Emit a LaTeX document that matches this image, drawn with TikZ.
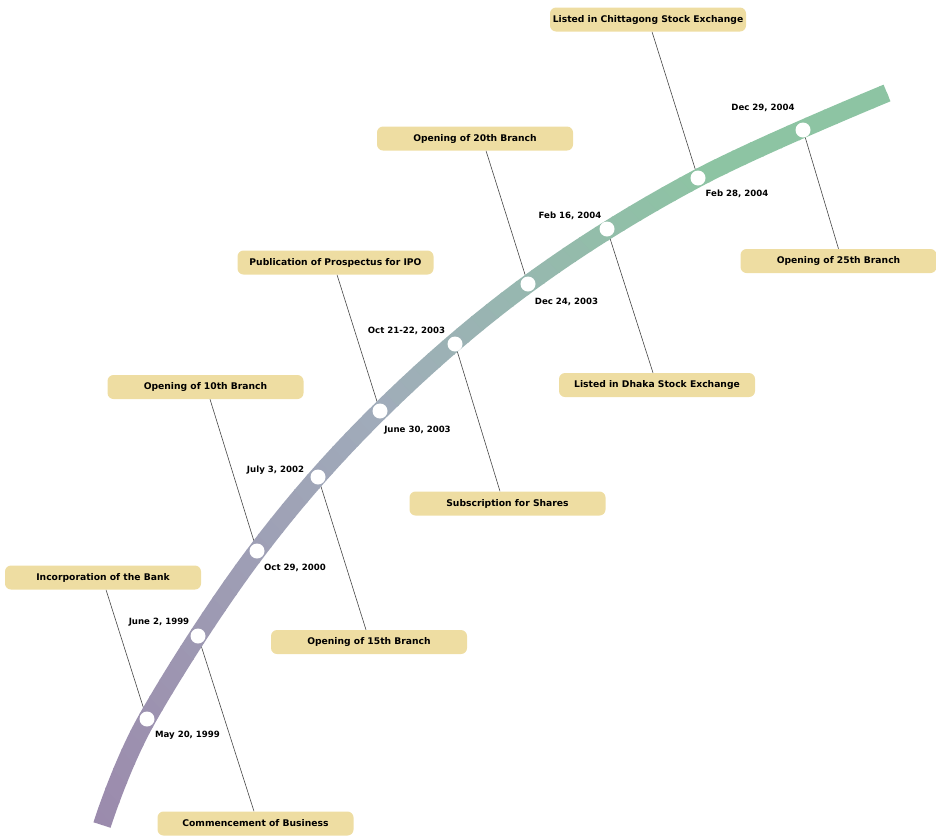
\documentclass[tikz,border=0pt]{standalone}
\usepackage{fontspec}
\setmainfont{DejaVu Sans}
\usetikzlibrary{backgrounds}
\definecolor{bandA}{RGB}{155,137,172}
\definecolor{bandB}{RGB}{160,172,186}
\definecolor{bandC}{RGB}{141,196,163}
\definecolor{boxfill}{RGB}{238,221,162}
\definecolor{linec}{RGB}{70,70,70}
\newcommand\drawband[1]{\draw[#1] plot[smooth,tension=0.6] coordinates {(102,825) (147,719) (257,551) (380,411) (528,284) (698,178) (887,93)};}
\begin{document}
\begin{tikzpicture}[x=1pt,y=-1pt,
  evbox/.style={fill=boxfill, rounded corners=6pt, minimum width=196pt, minimum height=24pt, inner sep=0pt, font=\bfseries\fontsize{9.2}{10}\selectfont},
  datelbl/.style={font=\bfseries\fontsize{8.6}{10}\selectfont, inner sep=0pt},
  evdot/.style={circle, fill=white, minimum size=15pt, inner sep=0pt},
  conn/.style={draw=linec, line width=0.6pt}]
\useasboundingbox (0,0) rectangle (936,836);
% event boxes
\node[evbox] (b1) at (103,577.5) {Incorporation of the Bank};
\node[evbox] (b2) at (255.5,823.5) {Commencement of Business};
\node[evbox] (b3) at (205.5,387) {Opening of 10th Branch};
\node[evbox] (b4) at (369,642) {Opening of 15th Branch};
\node[evbox] (b5) at (335.5,262.5) {Publication of Prospectus for IPO};
\node[evbox] (b6) at (507.5,503.5) {Subscription for Shares};
\node[evbox] (b7) at (475,138.5) {Opening of 20th Branch};
\node[evbox] (b8) at (657,385) {Listed in Dhaka Stock Exchange};
\node[evbox] (b9) at (648,19.5) {Listed in Chittagong Stock Exchange};
\node[evbox] (b10) at (838.5,261) {Opening of 25th Branch};
% dots
\node[evdot] (d1) at (147,719) {};
\node[evdot] (d2) at (198,636) {};
\node[evdot] (d3) at (257,551) {};
\node[evdot] (d4) at (318,477) {};
\node[evdot] (d5) at (380,411) {};
\node[evdot] (d6) at (455,344) {};
\node[evdot] (d7) at (528,284) {};
\node[evdot] (d8) at (607,229) {};
\node[evdot] (d9) at (698,178) {};
\node[evdot] (d10) at (803,130) {};
% dates
\node[datelbl] (t1) at (187.5,735) {May 20, 1999};
\node[datelbl] (t2) at (159,622) {June 2, 1999};
\node[datelbl] (t3) at (295,568) {Oct 29, 2000};
\node[datelbl] (t4) at (275.5,470) {July 3, 2002};
\node[datelbl] (t5) at (417.5,430) {June 30, 2003};
\node[datelbl] (t6) at (406.5,331) {Oct 21-22, 2003};
\node[datelbl] (t7) at (566.5,302) {Dec 24, 2003};
\node[datelbl] (t8) at (570,216) {Feb 16, 2004};
\node[datelbl] (t9) at (737,194) {Feb 28, 2004};
\node[datelbl] (t10) at (763,108) {Dec 29, 2004};
\begin{scope}[on background layer]
% connectors
\draw[conn] ([xshift=3pt]b1.south) -- (d1.center);
\draw[conn] ([xshift=-1.5pt]b2.north) -- (d2.center);
\draw[conn] ([xshift=4.5pt]b3.south) -- (d3.center);
\draw[conn] ([xshift=-3pt]b4.north) -- (d4.center);
\draw[conn] ([xshift=1.5pt]b5.south) -- (d5.center);
\draw[conn] ([xshift=-7.5pt]b6.north) -- (d6.center);
\draw[conn] ([xshift=11pt]b7.south) -- (d7.center);
\draw[conn] ([xshift=-4pt]b8.north) -- (d8.center);
\draw[conn] ([xshift=4pt]b9.south) -- (d9.center);
\draw[conn] ([xshift=0pt]b10.north) -- (d10.center);
% gradient band
\foreach \i in {0,...,59}{
  \pgfmathsetmacro{\sa}{-30+\i*19}
  \pgfmathsetmacro{\sb}{\sa+20.5}
  \pgfmathsetmacro{\ax}{102+\sa*0.7313}
  \pgfmathsetmacro{\ay}{825-\sa*0.6820}
  \pgfmathsetmacro{\bx}{102+\sb*0.7313}
  \pgfmathsetmacro{\by}{825-\sb*0.6820}
  \pgfmathsetmacro{\tt}{(\i+0.5)/60}
  \pgfmathtruncatemacro{\seg}{\tt<0.45 ? 0 : (\tt<0.8 ? 1 : 2)}
  \ifcase\seg
    \pgfmathtruncatemacro{\pp}{100*\tt/0.45}\colorlet{bandcur}{bandB!\pp!bandA}
  \or
    \pgfmathtruncatemacro{\pp}{100*(\tt-0.45)/0.35}\colorlet{bandcur}{bandC!\pp!bandB}
  \else
    \colorlet{bandcur}{bandC}
  \fi
  \begin{scope}
    \clip (\ax+477.4,\ay+511.9) -- (\bx+477.4,\by+511.9) -- (\bx-477.4,\by-511.9) -- (\ax-477.4,\ay-511.9) -- cycle;
    \drawband{line width=18pt, draw=bandcur}
  \end{scope}
}
\end{scope}
\end{tikzpicture}
\end{document}
